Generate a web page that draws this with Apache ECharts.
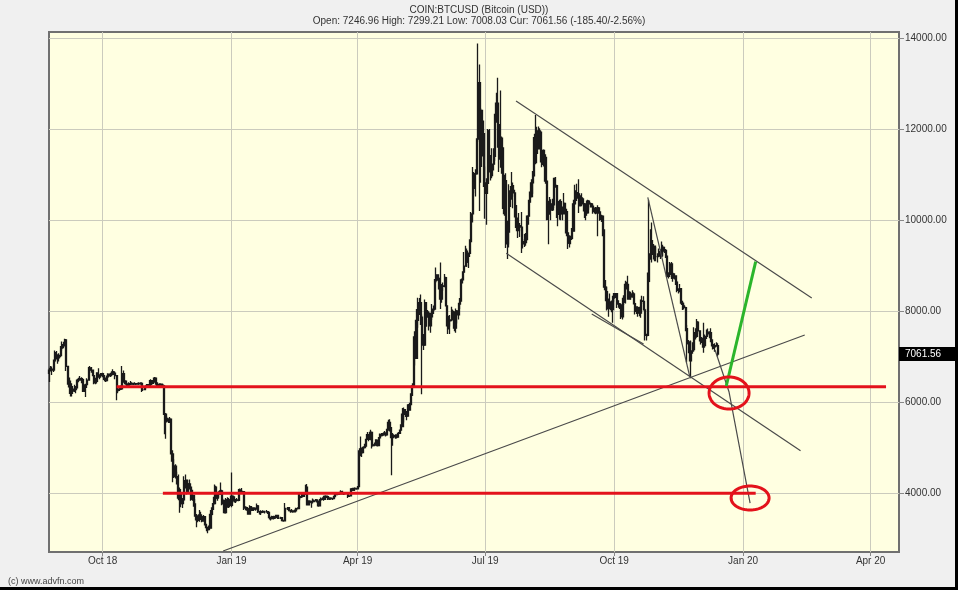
<!DOCTYPE html>
<html><head><meta charset="utf-8">
<script src="https://cdn.jsdelivr.net/npm/echarts@6/dist/echarts.min.js"></script>
<style>
html,body{margin:0;padding:0;background:#f0f0f0;}
#c{width:958px;height:590px;position:absolute;left:0;top:0;}
#edge{position:absolute;left:0;top:0;width:958px;height:590px;box-sizing:border-box;border-right:3px solid #000;border-bottom:3px solid #000;pointer-events:none;}
</style>
</head><body><div id="c"></div><div id="edge"></div>
<script>
// ---- data ----
const firstDay = [2018, 7, 24];   // 24 Aug 2018, one bar per day
const firstOpen = 6640;
const closes = [
// 2018-08 (24-31)
6710,6730,6710,6910,7090,7030,6980,7030,
// 2018-09
7190,7270,7260,7370,6790,6530,6410,6200,6250,6290,6280,6320,6490,6490,6520,6500,6250,6330,6390,6490,6760,6720,6710,6590,6430,6460,6640,6600,6590,6630,
// 2018-10
6590,6530,6480,6560,6620,6590,6610,6670,6640,6590,6260,6280,6290,6300,6630,6470,6450,6400,6380,6410,6420,6410,6400,6410,6400,6410,6420,6420,6280,6280,6330,
// 2018-11
6360,6390,6370,6480,6420,6470,6530,6420,6370,6390,6400,6380,6360,5740,5650,5620,5590,5630,4870,4450,4600,4370,4330,3900,4010,3780,3860,4260,4280,4020,
// 2018-12
4210,4140,3880,3960,3770,3510,3420,3410,3530,3450,3400,3490,3320,3250,3210,3240,3540,3670,3780,4140,3900,4010,3980,4060,3820,3850,3580,3860,3750,3860,3740,
// 2019-01
3940,3840,3840,3860,3850,4080,4030,4030,4040,3680,3690,3660,3550,3710,3630,3660,3680,3660,3730,3600,3580,3600,3590,3600,3600,3600,3580,3470,3450,3490,3460,
// 2019-02
3490,3520,3460,3460,3470,3410,3400,3670,3670,3690,3630,3620,3620,3600,3620,3670,3670,3910,3930,3990,3940,3990,4140,3750,3830,3810,3820,3820,
// 2019-03
3840,3860,3830,3730,3860,3880,3890,3870,3940,3930,3880,3900,3890,3890,3930,4000,3980,3990,4020,4040,3990,4000,4020,4010,3940,3950,4100,4070,4110,4110,4100,
// 2019-04
4150,4880,4980,4900,5010,5040,5190,5290,5190,5340,5050,5070,5070,5170,5050,5220,5270,5300,5290,5330,5290,5400,5560,5430,5230,5270,5250,5270,5240,5320,
// 2019-05
5390,5470,5740,5840,5770,5700,5830,5950,6160,6360,7120,6970,7800,7990,8190,7870,7350,7260,8190,7960,7960,7680,7880,7990,8050,8670,8800,8720,8660,8270,8550,
// 2019-06
8560,8740,8120,7680,7790,7810,8000,7950,7630,8010,7920,8160,8240,8690,8860,8990,9320,9080,9270,9530,10140,10700,10860,11020,11780,13020,11180,12410,11900,10820,
// 2019-07
10590,10810,11960,11200,10980,11230,11400,12280,12570,12100,11340,11800,11390,10260,10870,9480,9740,10640,10530,10760,10600,10320,9890,9770,9880,9850,9480,9530,9510,9600,10090,
// 2019-08
10400,10520,10820,10980,11810,11470,11960,11960,11840,11280,11530,11380,10860,10020,10300,10360,10230,10340,10920,10760,10140,10130,10410,10140,10140,10370,10190,9720,9500,9580,9600,
// 2019-09
9760,10360,10640,10590,10580,10320,10490,10410,10360,10110,10160,10420,10360,10360,10310,10260,10190,10160,10270,10180,10020,10090,9700,8530,8430,8060,8190,8200,8040,8290,
// 2019-10
8310,8390,8230,8160,8140,7880,8220,8200,8590,8590,8270,8320,8320,8380,8170,8000,8080,7960,7960,8230,8220,8030,7470,7470,8660,9260,9550,9250,9430,9200,9200,
// 2019-11
9260,9310,9210,9410,9320,9340,9210,8770,8810,9040,8730,8820,8780,8640,8460,8490,8500,8180,8120,8080,7620,7290,7330,6910,7130,7160,7530,7450,7760,7570,
// 2019-12 (1-14)
7420,7320,7320,7250,7450,7540,7510,7530,7370,7240,7220,7240,7247,7061.56
];
const highs = [
// 2018-08
6760,6800,6790,6940,7140,7130,7060,7080,
// 2018-09
7240,7340,7330,7400,7390,6800,6530,6480,6420,6360,6390,6360,6520,6540,6580,6550,6520,6400,6410,6530,6780,6800,6780,6720,6600,6540,6660,6750,6620,6640,
// 2018-10
6650,6610,6540,6590,6640,6630,6650,6730,6690,6660,6600,6360,6340,6370,6800,6700,6490,6480,6420,6440,6470,6440,6430,6440,6420,6430,6440,6440,6440,6300,6340,
// 2018-11
6370,6400,6400,6510,6490,6490,6560,6540,6440,6410,6420,6410,6400,6380,5770,5690,5650,5680,5630,4950,4750,4640,4480,4420,4130,4100,3900,4380,4420,4310,
// 2018-12
4310,4310,4140,4080,3960,3880,3550,3500,3640,3600,3460,3530,3490,3330,3270,3300,3640,3700,3930,4200,4170,4030,4050,4240,4080,3890,3860,3900,3920,3900,3870,
// 2019-01
4460,3950,3940,3880,3900,4100,4110,4120,4060,4050,3720,3710,3680,3740,3720,3700,3700,3690,3780,3750,3610,3630,3630,3620,3620,3640,3610,3600,3490,3510,3510,
// 2019-02
3500,3530,3530,3480,3490,3480,3420,3790,3690,3700,3690,3640,3660,3630,3650,3690,3700,4000,4000,4010,4000,4000,4190,4210,3850,3840,3840,3890,
// 2019-03
3870,3880,3870,3840,3880,3910,3920,3950,3960,3950,3940,3920,3910,3900,3950,4030,4010,4010,4040,4070,4060,4020,4030,4030,4020,3960,4110,4100,4120,4130,4120,
// 2019-04
4160,4950,5250,5010,5040,5090,5200,5350,5300,5400,5360,5100,5120,5190,5180,5240,5320,5330,5330,5370,5330,5420,5620,5630,5460,5330,5300,5300,5300,5350,
// 2019-05
5400,5520,5880,5890,5850,5810,5960,5990,6200,6420,7450,7560,8050,8300,8290,8370,7930,7500,8260,8100,8030,8000,7970,8160,8130,8710,8960,8800,8760,9070,8600,
// 2019-06
8630,8820,8760,8120,7900,7920,8100,8040,8000,8060,8020,8190,8290,8720,8880,9300,9440,9380,9290,9580,10180,11170,11060,11120,11800,13880,13420,12460,12400,12190,
// 2019-07
11180,10920,12000,12000,11430,11580,11580,12340,12800,13130,12100,12850,11840,11600,11000,11030,9990,10790,10750,11060,10830,10670,10330,10060,10160,9940,10180,9590,9700,9720,10110,
// 2019-08
10450,10630,10900,11080,11900,12310,12050,12060,12020,11950,11530,11550,11450,10830,10430,10510,10460,10470,10930,10950,10780,10230,10450,10460,10300,10600,10370,10250,9700,9670,9660,
// 2019-09
9830,10450,10780,10800,10620,10900,10550,10590,10480,10380,10290,10450,10440,10390,10380,10350,10280,10290,10330,10290,10100,10120,10090,9800,8690,8540,8280,8390,8240,8340,
// 2019-10
8400,8390,8400,8230,8180,8170,8300,8350,8670,8650,8780,8440,8430,8460,8420,8190,8110,8110,8100,8260,8340,8330,8060,7510,8850,10450,9800,9950,9480,9410,9410,
// 2019-11
9270,9380,9360,9530,9460,9420,9370,9220,8860,9080,9080,8860,8820,8790,8670,8500,8600,8500,8230,8170,8100,7700,7370,7330,7360,7320,7650,7630,7830,7780,
// 2019-12
7540,7430,7420,7750,7490,7600,7620,7560,7630,7380,7280,7300,7320,7299.21
];
const lows = [
// 2018-08
6450,6680,6600,6670,6880,6940,6850,6900,
// 2018-09
6990,7140,7190,7230,6690,6390,6330,6130,6130,6250,6230,6200,6310,6440,6480,6420,6230,6230,6120,6390,6480,6650,6650,6580,6400,6400,6440,6540,6510,6540,
// 2018-10
6550,6490,6450,6460,6540,6570,6560,6600,6600,6510,6050,6200,6250,6270,6290,6430,6400,6360,6350,6360,6380,6390,6380,6390,6380,6390,6390,6390,6230,6250,6270,
// 2018-11
6300,6340,6340,6350,6380,6400,6430,6390,6330,6350,6370,6340,6320,5300,5200,5560,5550,5550,4700,4250,4340,4330,4200,3850,3580,3700,3680,3840,4110,3980,
// 2018-12
3990,4090,3840,3840,3710,3490,3260,3370,3380,3420,3370,3380,3300,3170,3130,3200,3240,3510,3640,3760,3850,3840,3910,3980,3740,3760,3560,3560,3690,3680,3700,
// 2019-01
3700,3800,3800,3790,3830,3830,3990,3990,3990,3640,3630,3620,3540,3550,3610,3620,3640,3620,3650,3570,3540,3530,3570,3580,3560,3580,3550,3430,3410,3440,3430,
// 2019-02
3440,3460,3440,3440,3440,3390,3380,3390,3640,3640,3610,3580,3590,3580,3590,3610,3650,3660,3850,3900,3920,3940,3970,3740,3740,3770,3690,3780,
// 2019-03
3810,3830,3800,3710,3720,3850,3860,3840,3860,3900,3860,3860,3870,3860,3880,3920,3960,3960,3970,4000,3980,3970,3990,3990,3900,3930,3940,4050,4060,4080,4080,
// 2019-04
4110,4150,4820,4800,4900,4990,5050,5180,5150,5170,4990,5030,5040,5050,5030,5040,5220,5250,5260,5280,5250,5280,5380,5360,4400,5050,5220,5200,5210,5230,
// 2019-05
5310,5380,5460,5560,5680,5610,5740,5820,5940,6140,6350,6810,6960,7640,7920,7700,6180,7150,7250,7660,7860,7580,7530,7810,7940,8020,8620,8670,8480,8050,8190,
// 2019-06
8450,8530,8110,7500,7600,7500,7780,7820,7560,7530,7730,7820,8050,8210,8610,8840,8980,8980,8950,9190,9530,9950,10590,10520,11000,11720,10200,10820,11400,10730,
// 2019-07
10030,9900,10810,11050,10870,10920,11090,11300,12140,11590,11060,11150,11020,10130,10100,9390,9150,9400,10290,10450,10260,10060,9830,9610,9780,9630,9280,9380,9410,9440,9560,
// 2019-08
9900,10380,10500,10580,10960,11230,11250,11550,11550,11160,11210,11180,10800,10000,9470,10120,10000,10200,10270,10710,10050,9870,10010,10000,10000,10130,10160,9650,9370,9400,9470,
// 2019-09
9570,9750,10350,10420,10470,10160,10300,10320,10190,10050,10000,10140,10230,10280,10280,10140,10150,10130,9650,10140,9990,9960,9650,8460,8220,8020,7880,8090,7980,7750,
// 2019-10
8210,8290,8070,8080,8050,7830,7820,8140,8170,8480,8270,8280,8260,8300,8150,7930,7940,7880,7890,7860,8160,8020,7360,7360,7450,8630,9130,9070,9140,9100,9100,
// 2019-11
9070,9200,9150,9190,9220,9280,9170,8750,8720,8760,8710,8650,8700,8580,8420,8390,8420,8140,8030,8040,7560,6880,7080,6900,6530,7070,7120,7380,7420,7510,
// 2019-12
7340,7270,7200,7090,7200,7390,7460,7410,7320,7160,7170,7110,7220,7008.03
];

const xTickDates  = ['2018-10-01','2019-01-01','2019-04-01','2019-07-01','2019-10-01','2020-01-01','2020-04-01'];
const xTickLabels = ['Oct 18','Jan 19','Apr 19','Jul 19','Oct 19','Jan 20','Apr 20'];
const yTickValues = [4000,6000,8000,10000,12000,14000];

// drawn annotations (date, price)
const upperChannel = [['2019-07-23',12617],['2020-02-19',8292]];
const lowerChannel = [['2019-07-16',9273],['2020-02-11',4940]];
const shortSupport = [['2019-09-15',7941],['2019-10-22',7282]];
const risingSupport = [['2018-12-26',2738],['2020-02-14',7480]];
const dropLine = [['2019-10-25',10503],['2019-11-24',6560]];
const projection = [['2019-12-12',7150],['2019-12-22',6228],['2020-01-06',3791]];
const resistanceRed = [['2018-10-11',6345],['2020-04-12',6345]];
const supportRed = [['2018-11-13',4004],['2020-01-10',4004]];
const greenTarget = [['2019-12-20',6360],['2020-01-10',9089]];
const circleCenters = [['2019-12-22',6206],['2020-01-06',3901]];

const titleText = 'COIN:BTCUSD (Bitcoin (USD))';
const quoteText = 'Open: 7246.96 High: 7299.21 Low: 7008.03 Cur: 7061.56 (-185.40/-2.56%)';
const lastPrice = 7061.56;

// ---- build ----
const candles = closes.map((c, i) => {
  const t = new Date(firstDay[0], firstDay[1], firstDay[2] + i).getTime();
  const o = i === 0 ? firstOpen : closes[i - 1];
  return [t, o, c, lows[i], highs[i]];
});
const parse = s => { const p = s.split('-').map(Number); return new Date(p[0], p[1]-1, p[2]).getTime(); };
const tickTs = xTickDates.map(parse);
const labelMap = {}; tickTs.forEach((t, i) => labelMap[t] = xTickLabels[i]);
const P = arr => arr.map(d => [parse(d[0]), d[1]]);

const chart = echarts.init(document.getElementById('c'), null, {renderer: 'canvas'});
const font = '"Liberation Sans", Arial, sans-serif';
const annot = (data, color, width, z) => ({
  type: 'line', data: P(data), symbol: 'none', silent: true, z: z || 4,
  lineStyle: {color: color, width: width}, animation: false
});
const GRID_L = 49, GRID_T = 32, GRID_W = 850, GRID_H = 520;

chart.setOption({
  animation: false,
  backgroundColor: '#f0f0f0',
  title: [
    {text: titleText, subtext: quoteText, left: 'center', top: 0, itemGap: 1,
     textStyle: {fontFamily: font, fontSize: 10, fontWeight: 'normal', color: '#333'},
     subtextStyle: {fontFamily: font, fontSize: 10, color: '#333'}},
    {text: '(c) www.advfn.com', left: 3, top: 572,
     textStyle: {fontFamily: font, fontSize: 9, fontWeight: 'normal', color: '#444'}}
  ],
  grid: {left: GRID_L, top: GRID_T, width: GRID_W, height: GRID_H, show: true,
         backgroundColor: '#ffffe1', borderColor: '#707070', borderWidth: 2},
  xAxis: {
    type: 'value',
    min: new Date(2018, 7, 23, 18).getTime(),
    max: new Date(2020, 3, 21, 6).getTime(),
    axisLine: {show: false},
    splitLine: {show: false},
    axisTick: {show: true, customValues: tickTs, length: 4, lineStyle: {color: '#888'}},
    axisLabel: {customValues: tickTs, formatter: v => labelMap[v] || '', fontFamily: font,
                fontSize: 10, color: '#333', margin: 4, hideOverlap: false}
  },
  yAxis: {
    type: 'value', position: 'right', min: 2716, max: 14132,
    axisLine: {show: false},
    splitLine: {show: false},
    axisTick: {show: true, customValues: yTickValues, length: 5, lineStyle: {color: '#888'}},
    axisLabel: {customValues: yTickValues, formatter: v => Number(v).toFixed(2), fontFamily: font,
                fontSize: 10, color: '#333', margin: 6}
  },
  series: [
    {type: 'line', data: [], silent: true, z: 1,
     markLine: {silent: true, z: 1, symbol: ['none', 'none'], label: {show: false}, animation: false,
       lineStyle: {color: '#cbcbbd', width: 1, type: 'solid'},
       data: yTickValues.map(v => ({yAxis: v})).concat(tickTs.map(t => ({xAxis: t})))}},
    {type: 'candlestick', data: candles, barWidth: 1.6, silent: true, z: 3,
     itemStyle: {color: '#1a1a1a', color0: '#1a1a1a', borderColor: '#1a1a1a', borderColor0: '#1a1a1a', borderWidth: 1.3}},
    annot(upperChannel, '#4a4a4a', 1.2),
    annot(lowerChannel, '#4a4a4a', 1.2),
    annot(shortSupport, '#4a4a4a', 1.2),
    annot(risingSupport, '#4a4a4a', 1.2),
    annot(dropLine, '#4a4a4a', 1.2),
    annot(projection, '#4a4a4a', 1.2),
    annot(resistanceRed, '#e3121b', 3, 5),
    annot(supportRed, '#e3121b', 3, 5),
    annot(greenTarget, '#2bb52b', 3, 6),
    {type: 'custom', data: P(circleCenters), silent: true, z: 7,
     renderItem: (params, api) => {
       const c = api.coord([api.value(0), api.value(1)]);
       const radii = [[20, 16], [19, 12]];
       const r = radii[params.dataIndex];
       const pts = [];
       for (let k = 0; k < 72; k++) {
         const a = k / 72 * Math.PI * 2;
         pts.push([c[0] + r[0] * Math.cos(a), c[1] + r[1] * Math.sin(a)]);
       }
       return {type: 'polygon', shape: {points: pts}, style: {fill: 'none', stroke: '#e3121b', lineWidth: 3}};
     }}
  ]
});

// last price marker on the price axis
const py = chart.convertToPixel({yAxisIndex: 0}, lastPrice);
chart.setOption({graphic: [
  {type: 'rect', shape: {x: GRID_L + GRID_W, y: py - 7, width: 958 - GRID_L - GRID_W, height: 14}, style: {fill: '#000'}, z: 20},
  {type: 'text', x: GRID_L + GRID_W + 6, y: py, style: {text: lastPrice.toFixed(2), fill: '#fff', font: '10px ' + font, verticalAlign: 'middle'}, z: 21}
]});
</script>
</body></html>
